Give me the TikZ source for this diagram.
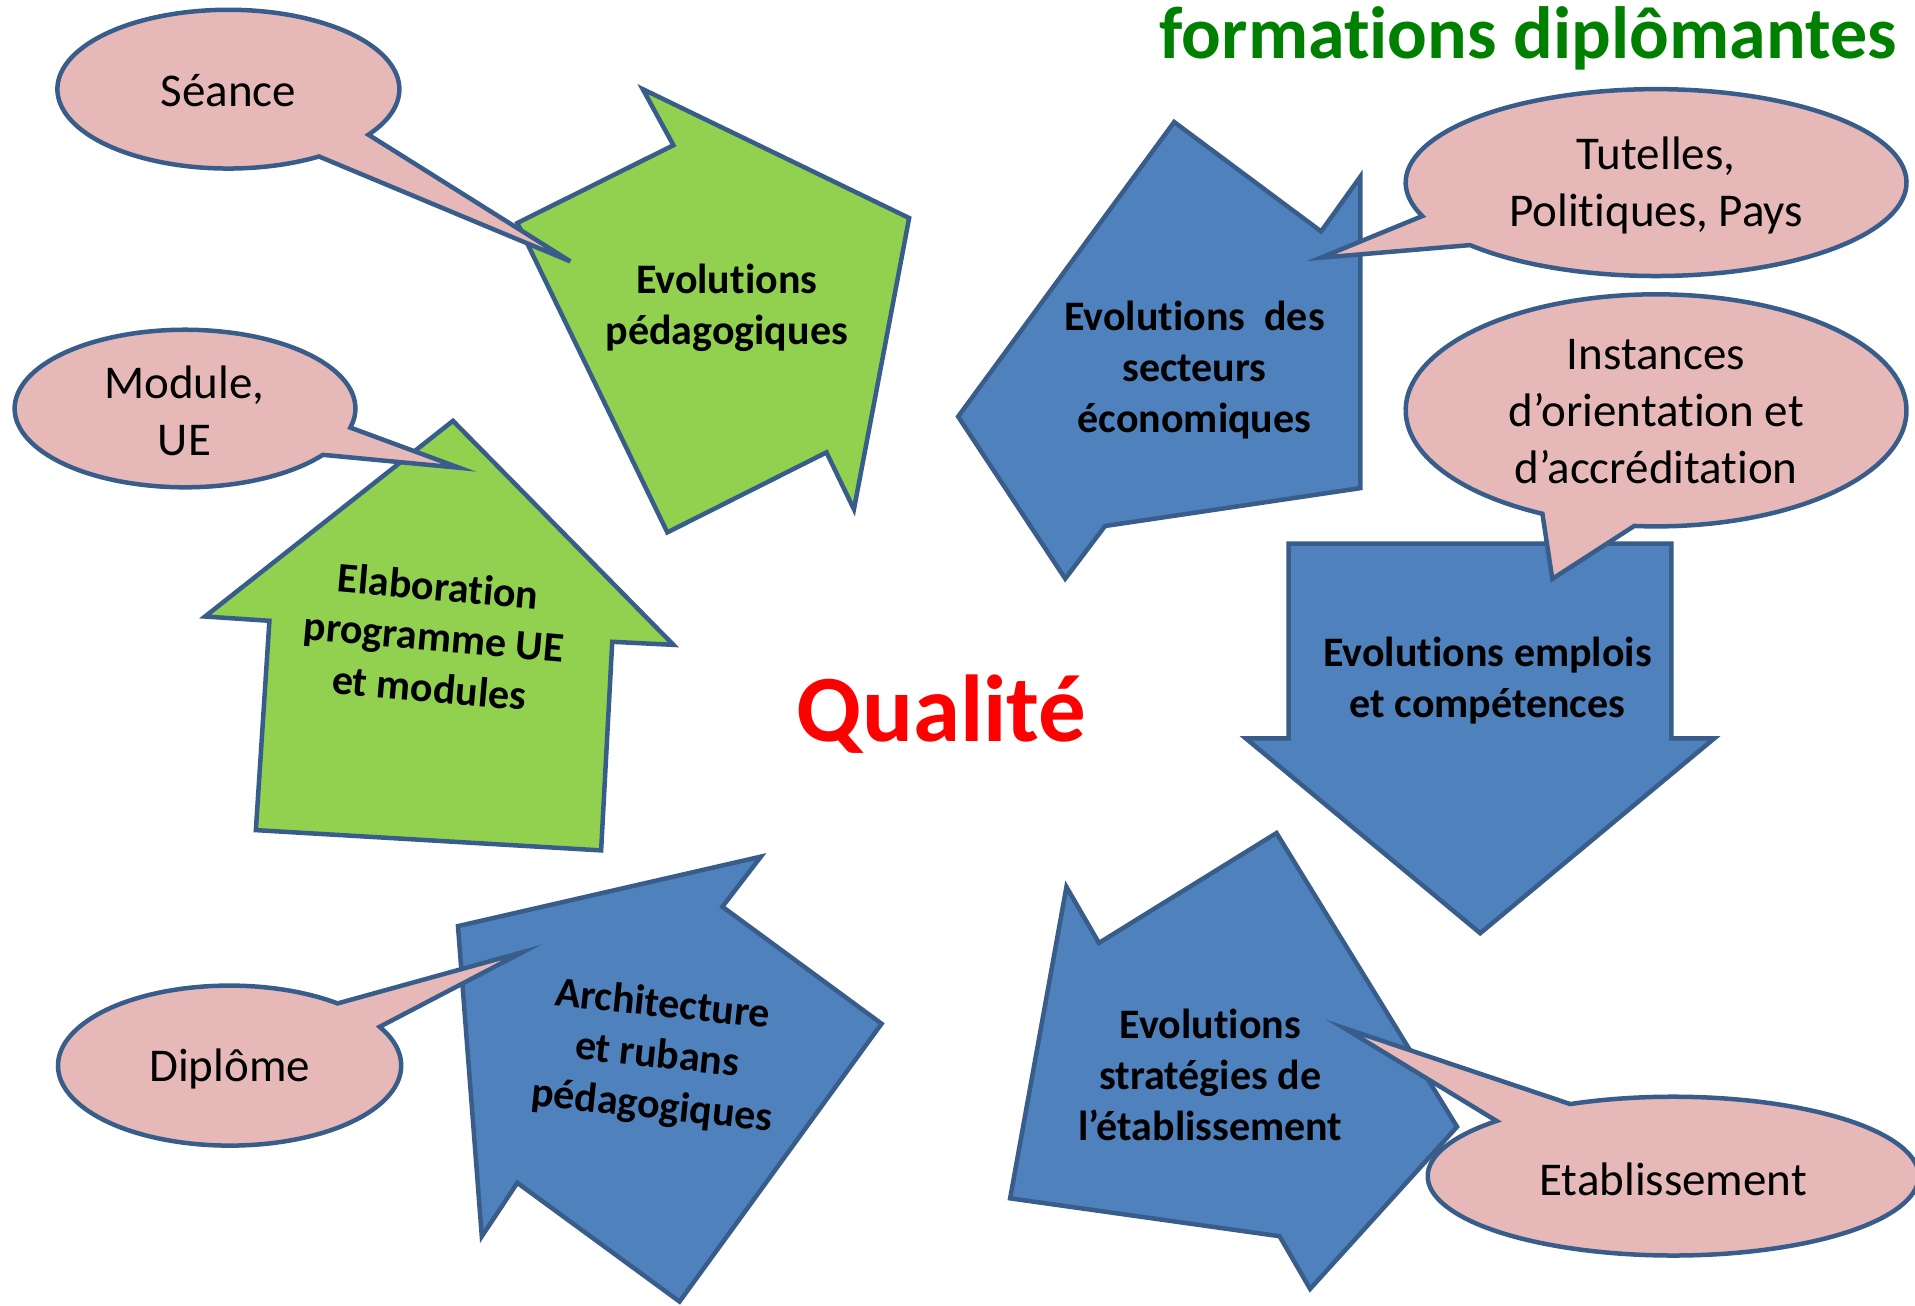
\documentclass[tikz,border=0pt]{standalone}
\usepackage{fontspec}
\setmainfont{Carlito}[Ligatures=NoCommon]
\definecolor{greenf}{HTML}{92D050}
\definecolor{bluef}{HTML}{4F81BD}
\definecolor{edgec}{HTML}{385D8A}
\definecolor{pinkf}{HTML}{E6B9B8}
\definecolor{titlegreen}{HTML}{008000}
\definecolor{qred}{HTML}{FF0000}
\begin{document}
\begin{tikzpicture}[x=1.2213pt, y=-1.2213pt, line join=miter,
  garrow/.style={fill=greenf, draw=edgec, line width=4.5pt},
  barrow/.style={fill=bluef, draw=edgec, line width=4.5pt},
  bubble/.style={fill=pinkf, draw=edgec, line width=4.5pt},
  btext/.style={font=\fontsize{47}{57}\selectfont, align=center, text=black, inner sep=0pt},
  atext/.style={font=\bfseries\fontsize{42}{51}\selectfont, align=center, text=black, inner sep=0pt},
  rline/.style={font=\bfseries\fontsize{42}{51}\selectfont, text=black, inner sep=0pt, text height=30pt, text depth=10pt}]
\useasboundingbox (0,0) rectangle (1568,1069);
\fill[white] (0,0) rectangle (1568,1069);

% ---- block arrows ----
\draw[garrow] (526.3,73) -- (551.4,118.9) -- (423.6,182.6) -- (546.4,435.9) -- (676.7,370.4) -- (699.2,417) -- (744.4,178.5) -- cycle;
\draw[garrow] (370.9,344.6) -- (551.4,528) -- (501.3,525.5) -- (492.2,696.3) -- (209.5,679.7) -- (220.6,508.3) -- (167.9,504.8) -- cycle;
\draw[barrow] (961.4,99.9) -- (1081.7,189.5) -- (1113.8,144.7) -- (1113.8,399.7) -- (904.8,430.7) -- (872.2,473.8) -- (784.5,341.1) -- cycle;
\draw[barrow] (1055.2,445.2) -- (1368.5,445.2) -- (1368.5,604.6) -- (1403.6,604.6) -- (1212,764.1) -- (1020.1,604.6) -- (1055.2,604.6) -- cycle;
\draw[barrow] (1045.2,682.1) -- (899.8,772.1) -- (873.2,726.2) -- (827.1,981.2) -- (1047.7,1012.2) -- (1072.7,1055.3) -- (1193,922.6) -- cycle;
\draw[barrow] (623,701.4) -- (591.5,742.4) -- (721.8,838.2) -- (556.4,1065.7) -- (423.6,968.5) -- (394.5,1012.3) -- (375,758.3) -- cycle;

% ---- arrow texts ----
\node[atext] (tpeda) at (595,252) {Evolutions\\pédagogiques};
\node[rline, rotate=-5] (telab1) at (358.6,483.4) {Elaboration};
\node[rline, rotate=-5] (telab2) at (355,525) {programme UE};
\node[rline, rotate=-5] (telab3) at (351.4,566.6) {et modules};
\node[atext] (tsect) at (978,303) {Evolutions\ \ des\\secteurs\\économiques};
\node[atext] (templ) at (1218,557) {Evolutions emplois\\et compétences};
\node[atext] (tstrat) at (991,880) {Evolutions\\stratégies de\\l’établissement};
\node[rline, rotate=-6] (tarch1) at (542.4,824.5) {Architecture};
\node[rline, rotate=-6] (tarch2) at (538,866) {et rubans};
\node[rline, rotate=-6] (tarch3) at (533.6,907.5) {pédagogiques};

% ---- callouts ----
\coordinate (cseance) at (187,73);
\coordinate (tipseance) at (467,214);
\draw[bubble] (cseance) ++(35:140 and 65) arc[start angle=35, end angle=-302, x radius=140, y radius=65] -- (tipseance) -- cycle;
\node[btext] (seance) at (187,74) {Séance};

\coordinate (cmod) at (151.5,334.5);
\coordinate (tipmod) at (376,383);
\draw[bubble] (cmod) ++(14:139.5 and 64.5) arc[start angle=14, end angle=-324, x radius=139.5, y radius=64.5] -- (tipmod) -- cycle;
\node[btext] (module) at (151,336) {Module,\\UE};

\coordinate (ctut) at (1356,149.5);
\coordinate (tiptut) at (1081.5,211);
\draw[bubble] (ctut) ++(159:205 and 76.5) arc[start angle=159, end angle=498, x radius=205, y radius=76.5] -- (tiptut) -- cycle;
\node[btext] (tutelles) at (1356,152) {Tutelles,\\Politiques, Pays};

\coordinate (cinst) at (1356,336);
\coordinate (tipinst) at (1271,474);
\draw[bubble] (cinst) ++(117:205 and 95) arc[start angle=117, end angle=455, x radius=205, y radius=95] -- (tipinst) -- cycle;
\node[btext] (instances) at (1356,337) {Instances\\d’orientation et\\d’accréditation};

\coordinate (cdip) at (188,872.5);
\coordinate (tipdip) at (427.7,779.7);
\draw[bubble] (cdip) ++(-29:140.5 and 65.5) arc[start angle=-29, end angle=309, x radius=140.5, y radius=65.5] -- (tipdip) -- cycle;
\node[btext] (diplome) at (188,875) {Diplôme};

\coordinate (cetab) at (1370,963);
\coordinate (tipetab) at (1100.4,841.7);
\draw[bubble] (cetab) ++(-114.8:201 and 65) arc[start angle=-114.8, end angle=224, x radius=201, y radius=65] -- (tipetab) -- cycle;
\node[btext] (etab) at (1370,966) {Etablissement};

% ---- titles ----
\node[font=\bfseries\fontsize{95}{110}\selectfont, text=qred, inner sep=0pt] (qualite) at (771,585) {Qualité};
\node[font=\bfseries\fontsize{74}{88}\selectfont, text=titlegreen, inner sep=0pt, anchor=base east] (titre) at (1553,48) {formations diplômantes};
\end{tikzpicture}
\end{document}
